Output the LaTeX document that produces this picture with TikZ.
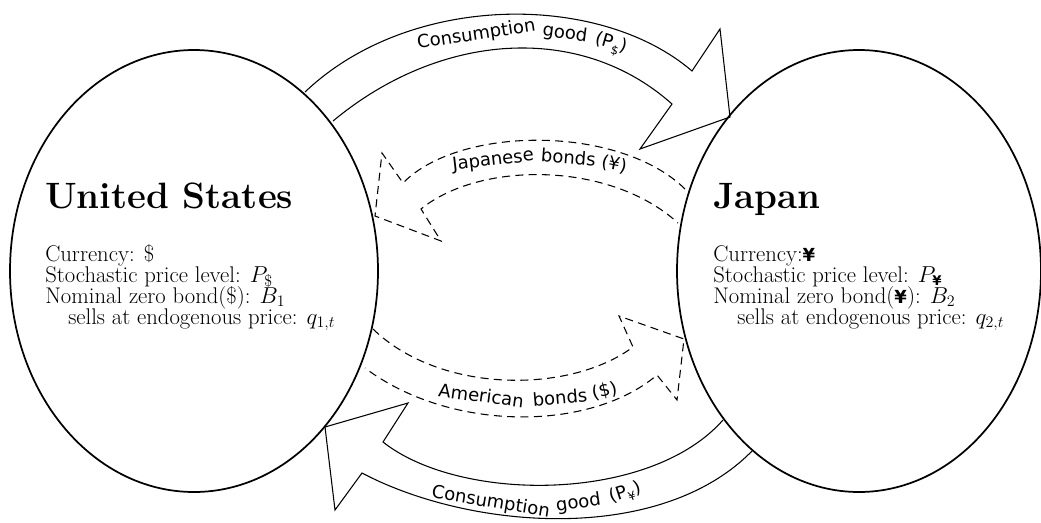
\documentclass[tikz,border=0pt]{standalone}
\usepackage{fontspec}
\newfontfamily\dejavu{DejaVu Sans}
\usetikzlibrary{shapes.geometric}
\newcommand\myyen{{\dejavu\bfseries\fontsize{13.5}{14}\selectfont ¥}}
\newcommand\myyensub{{\dejavu\bfseries\fontsize{10}{10}\selectfont ¥}}
\newcommand\subyen{\raisebox{-3.5pt}{\dejavu\fontsize{9}{9}\selectfont ¥}}
\newcommand\subdollar{\raisebox{-3.5pt}{\dejavu\fontsize{9}{9}\selectfont\$}}
\begin{document}
\begin{tikzpicture}[x=0.75pt,y=-0.75pt,
  country/.style={draw, ellipse, line width=1.3pt, inner sep=0pt},
  titletext/.style={anchor=base west, inner sep=0pt, font=\fontsize{27.5}{32}\selectfont\bfseries},
  bodytext/.style={anchor=base west, inner sep=0pt, font=\fontsize{17}{20}\selectfont},
  goods/.style={draw, line width=0.8pt, line join=miter},
  bonds/.style={draw, line width=0.8pt, dash pattern=on 6pt off 4pt},
  word/.style={sloped, anchor=base, inner sep=0pt, font=\dejavu\fontsize{13.5}{16}\selectfont}
]
\useasboundingbox (0,0) rectangle (1041,522);

% countries
\node[country, minimum width=276pt, minimum height=331.5pt] (us) at (194,271) {};
\node[country, minimum width=273pt, minimum height=331.5pt] (jp) at (859,271) {};

% United States text
\node[titletext] (ustitle) at (45,208) {United States};
\node[bodytext] (us1) at (45,261) {Currency: \$};
\node[bodytext] (us2) at (45,282) {Stochastic price level: $P_\$$};
\node[bodytext] (us3) at (45,303) {Nominal zero bond(\$): $B_1$};
\node[bodytext] (us4) at (68,324) {sells at endogenous price: $q_{1,t}$};

% Japan text
\node[titletext] (jptitle) at (713,208) {Japan};
\node[bodytext] (jp1) at (713,261) {Currency:\myyen};
\node[bodytext] (jp2) at (713,282) {Stochastic price level: $P_{\mbox{\myyensub}}$};
\node[bodytext] (jp3) at (713,303) {Nominal zero bond(\myyen): $B_2$};
\node[bodytext] (jp4) at (737,324) {sells at endogenous price: $q_{2,t}$};

% consumption good US -> Japan
\draw[goods] (305,92) .. controls (410,-8) and (600,-8) .. (692,71)
  -- (720,29) -- (730,117) -- (640,149) -- (672,104)
  .. controls (580,22) and (440,32) .. (333,121);
\path (340,100) .. controls (440,15) and (610,15) .. (705,100)
  node[word, pos=0.382] (cg1a) {Consumption}
  node[word, pos=0.60] (cg1b) {good}
  node[word, pos=0.717] (cg1c) {(P\subdollar)};

% consumption good Japan -> US
\draw[goods] (752,451) .. controls (660,545) and (470,530) .. (362,473)
  -- (335,510) -- (325,427) -- (408,403) -- (383,442)
  .. controls (460,503) and (650,503) .. (723,420);
\path (350,440) .. controls (450,535) and (624,535) .. (724,440)
  node[word, pos=0.385] (cg2a) {Consumption}
  node[word, pos=0.603] (cg2b) {good}
  node[word, pos=0.722] (cg2c) {(P\subyen)};

% Japanese bonds
\draw[bonds] (685,189) .. controls (620,125) and (460,125) .. (403,183)
  -- (382,153) -- (375,216) -- (441,241) -- (421,209)
  .. controls (480,161) and (610,161) .. (678,223);
\path (370,210) .. controls (450,147) and (628,147) .. (708,210)
  node[word, pos=0.382] (jb1) {Japanese}
  node[word, pos=0.575] (jb2) {bonds}
  node[word, pos=0.695] (jb3) {(¥)};

% American bonds
\draw[bonds] (373,329) .. controls (440,394) and (570,394) .. (633,347)
  -- (619,316) -- (684,339) -- (677,400) -- (657,375)
  .. controls (590,432) and (450,432) .. (365,368);
\path (360,355) .. controls (440,422) and (616,422) .. (696,355)
  node[word, pos=0.375] (ab1) {American}
  node[word, pos=0.585] (ab2) {bonds}
  node[word, pos=0.707] (ab3) {(\$)};
\end{tikzpicture}
\end{document}
